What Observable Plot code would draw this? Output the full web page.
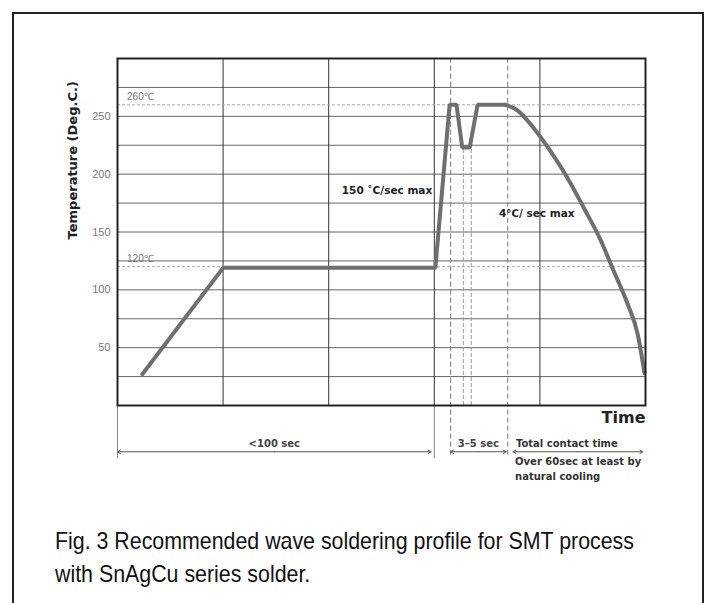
<!DOCTYPE html>
<html>
<head>
<meta charset="utf-8">
<script src="https://cdn.jsdelivr.net/npm/d3@7"></script>
<script src="https://cdn.jsdelivr.net/npm/@observablehq/plot@0.6"></script>
<style>
  html, body { margin: 0; padding: 0; background: #fff; }
  #page { position: relative; width: 706px; height: 603px; overflow: hidden; }
  #box { position: absolute; left: 12px; top: 12px; width: 688px; height: 620px;
         border-top: 2px solid #222; border-left: 2px solid #222; border-right: 2px solid #222; }
  #chart { position: absolute; left: 0; top: 0; }
  #caption { position: absolute; left: 55px; top: 524px; font-family: "Liberation Sans", Arial, sans-serif;
             font-size: 24px; line-height: 33px; color: #111; white-space: nowrap;
             transform: scaleX(0.89); transform-origin: 0 0; }
</style>
</head>
<body>
<div id="page">
  <div id="box"></div>
  <div id="chart"></div>
  <div id="caption">Fig. 3 Recommended wave soldering profile for SMT process<br>with SnAgCu series solder.</div>
</div>
<script>
// ---- data (time in arbitrary units 0–100, temperature in °C) ----
const tempTicks = [50, 100, 150, 200, 250];
const gridTemps = [25, 50, 75, 100, 125, 150, 175, 200, 225, 250, 275];
const gridTimes = [20, 40, 60, 80];
const refTemps = [260, 120];
const refLabels = ["260℃", "120℃"];

// heating + wave part (piecewise linear)
const heatTime = [4.7, 20, 60.2, 62.9, 64.2, 65.3, 66.7, 68.2, 73.5];
const heatTemp = [27, 119, 119, 260, 260, 223, 223, 260, 260];
// natural cooling part (smooth)
const coolTime = [73.5, 75.8, 78.8, 82.0, 85.2, 88.3, 91.5, 94.0, 96.6, 98.5, 99.8];
const coolTemp = [260, 255, 240, 220, 197, 171, 143, 116, 88, 62, 28];

// dashed time markers
const markFullTimes = [63.1, 73.9];
const markPairTimes = [65.5, 67.0];
const markPairTop = 224;
// solid extensions below the frame
const extTimes = [0, 60];
const belowLevel = -46;
const arrowLevel = -40;

// spans shown with double arrows
const spanStart = [0, 63.1, 74.9];
const spanEnd = [59.4, 73.6, 99.5];
const spanLabels = ["<100 sec", "3–5 sec", "Total contact time"];

// annotations
const rateLabels = ["150 ˚C/sec max", "4℃/ sec max"];
const rateTimes = [59.6, 79.4];
const rateTemps = [186, 166];
const noteLines = ["Over 60sec at least by", "natural cooling"];
const noteTemps = [-49, -62];

const heat = heatTime.map((t, i) => ({t, v: heatTemp[i]}));
const cool = coolTime.map((t, i) => ({t, v: coolTemp[i]}));
const refs = refTemps.map((v, i) => ({v, label: refLabels[i]}));
const arrows = [];
spanStart.forEach((s, i) => {
  const m = (s + spanEnd[i]) / 2;
  arrows.push({x1: m, x2: s}, {x1: m, x2: spanEnd[i]});
});
const spans = spanStart.map((s, i) => ({s, e: spanEnd[i], label: spanLabels[i]}));
const rates = rateLabels.map((label, i) => ({label, t: rateTimes[i], v: rateTemps[i]}));
const notes = noteLines.map((label, i) => ({label, v: noteTemps[i]}));

const bold = {fontWeight: "bold", fontFamily: "DejaVu Sans, sans-serif"};

const chart = Plot.plot({
  width: 706,
  height: 500,
  marginLeft: 117,
  marginRight: 61,
  marginTop: 58,
  marginBottom: 95,
  style: {overflow: "visible", background: "transparent"},
  x: {domain: [0, 100], axis: null},
  y: {domain: [0, 300], axis: null},
  marks: [
    Plot.ruleY(gridTemps, {stroke: "#666", strokeWidth: 1}),
    Plot.ruleX(gridTimes, {stroke: "#333", strokeWidth: 1}),
    Plot.ruleY(refs, {y: "v", stroke: "#aaa", strokeWidth: 1, strokeDasharray: "3,2"}),
    Plot.text(refs, {x: 1.8, y: "v", dy: -8, text: "label", textAnchor: "start", fill: "#777",
      fontSize: 10, fontFamily: "Liberation Sans Narrow, Liberation Sans, sans-serif"}),
    Plot.ruleX(markFullTimes, {y1: belowLevel + 3, y2: 300, stroke: "#777", strokeWidth: 1, strokeDasharray: "5,3"}),
    Plot.ruleX(markPairTimes, {y1: 0, y2: markPairTop, stroke: "#999", strokeWidth: 1, strokeDasharray: "4,2"}),
    Plot.ruleX(extTimes, {y1: belowLevel, y2: 0, stroke: "#888", strokeWidth: 1}),
    Plot.line(heat, {x: "t", y: "v", stroke: "#6f6f6f", strokeWidth: 4, strokeLinejoin: "miter"}),
    Plot.line(cool, {x: "t", y: "v", stroke: "#6f6f6f", strokeWidth: 4, curve: "monotone-x"}),
    Plot.frame({stroke: "#222", strokeWidth: 2}),
    Plot.axisY(tempTicks, {tickSize: 0, tickPadding: 7, fill: "#777", fontSize: 11,
      fontFamily: "Liberation Sans Narrow, Liberation Sans, sans-serif", label: null}),
    Plot.text(["Temperature (Deg.C.)"], {x: -8.5, y: 212, rotate: -90, fontSize: 13, fill: "#222", ...bold}),
    Plot.text(rates.slice(0, 1), {x: "t", y: "v", text: "label", textAnchor: "end", fontSize: 10.5, fill: "#222", ...bold}),
    Plot.text(rates.slice(1), {x: "t", y: "v", text: "label", textAnchor: "middle", fontSize: 10.5, fill: "#222", ...bold}),
    Plot.arrow(arrows, {x1: "x1", x2: "x2", y1: arrowLevel, y2: arrowLevel, stroke: "#555",
      strokeWidth: 1, headLength: 5, bend: 0}),
    Plot.text(spans.slice(0, 2), {x: (d) => (d.s + d.e) / 2, y: arrowLevel, dy: -8, text: "label",
      fontSize: 10, fill: "#444", ...bold}),
    Plot.text(spans.slice(2), {x: "s", y: arrowLevel, dx: 3, dy: -8, text: "label", textAnchor: "start",
      fontSize: 10, fill: "#333", ...bold}),
    Plot.text(notes, {x: 75.3, y: "v", text: "label", textAnchor: "start", fontSize: 10, fill: "#333", ...bold}),
    Plot.text(["Time"], {x: 100, y: -11, text: (d) => d, textAnchor: "end", fontSize: 16, fill: "#222", ...bold})
  ]
});
document.getElementById("chart").appendChild(chart);
</script>
</body>
</html>
